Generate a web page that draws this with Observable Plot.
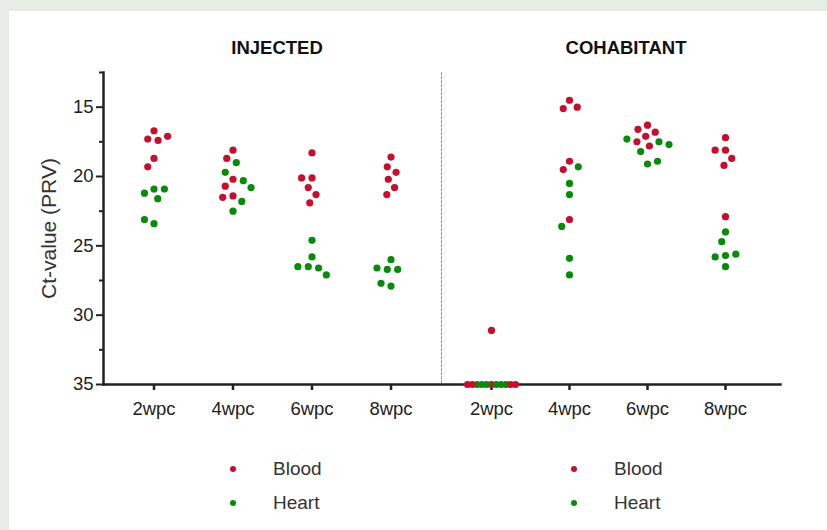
<!DOCTYPE html>
<html>
<head>
<meta charset="utf-8">
<script src="https://cdn.jsdelivr.net/npm/d3@7"></script>
<script src="https://cdn.jsdelivr.net/npm/@observablehq/plot@0.6"></script>
<style>
  html, body { margin: 0; padding: 0; background: #e8ece6; }
  #page { position: relative; width: 827px; height: 530px; overflow: hidden; font-family: "Liberation Sans", Arial, sans-serif; }
  #card { position: absolute; left: 9px; top: 11px; width: 818px; height: 519px; background: #fff; }
  .layer { position: absolute; top: 60px; }
  .layer svg { display: block; max-width: none; }
  .title { position: absolute; top: 37px; line-height: 22px; font-weight: bold; font-size: 18.5px; color: #111; transform: translateX(-50%); white-space: nowrap; }
  .legend { position: absolute; top: 456px; font-size: 19px; color: #333; }
  .legend .row { position: relative; height: 34px; line-height: 26px; }
  .legend .sw { position: absolute; left: 0; top: 10px; width: 6px; height: 6px; border-radius: 50%; }
  .legend .lab { position: absolute; left: 43px; top: 0; white-space: nowrap; }
</style>
</head>
<body>
<div id="page">
  <div id="card"></div>
  <div class="title" style="left:277px">INJECTED</div>
  <div class="title" style="left:626px">COHABITANT</div>
  <div class="layer" id="bgL" style="left:0px"></div>
  <div class="layer" id="fgL" style="left:0px"></div>
  <div class="layer" id="bgR" style="left:441px"></div>
  <div class="layer" id="fgR" style="left:441px"></div>
  <div class="legend" id="legL" style="left:230px"></div>
  <div class="legend" id="legR" style="left:571px"></div>
</div>
<script>
// ---- data (Ct-values) ----
const timepoints = ["2wpc", "4wpc", "6wpc", "8wpc"];
const groups = ["INJECTED", "COHABITANT"];
const tissues = ["Blood", "Heart"];
const tissueColors = ["#c4102e", "#0a8a0a"];
const yTicksMajor = [15, 20, 25, 30, 35];
const yTicksMinor = [12.5, 17.5, 22.5, 27.5, 32.5];
const yLabel = "Ct-value (PRV)";

// one inner list per timepoint (2, 4, 6, 8 wpc)
const injectedBlood = [
  [16.7, 17.3, 17.4, 17.1, 18.7, 19.3],
  [18.1, 18.7, 20.2, 20.7, 21.4, 21.5],
  [18.3, 20.1, 20.1, 20.8, 21.3, 21.9],
  [18.6, 19.3, 19.7, 20.2, 20.8, 21.3]
];
const injectedHeart = [
  [20.9, 21.2, 21.6, 20.9, 23.4, 23.1],
  [19.0, 19.7, 20.3, 20.8, 21.8, 22.5],
  [24.6, 25.8, 26.5, 26.6, 26.5, 27.1],
  [26.0, 26.7, 26.7, 26.6, 27.9, 27.7]
];
const cohabitantBlood = [
  [31.1, 35, 35, 35, 35, 35],
  [14.5, 15.1, 15.0, 18.9, 19.5, 23.1],
  [16.3, 16.6, 16.8, 17.1, 17.5, 17.8],
  [17.2, 18.1, 18.1, 18.7, 19.2, 22.9]
];
const cohabitantHeart = [
  [35, 35, 35, 35, 35, 35],
  [19.3, 20.5, 21.3, 23.6, 25.9, 27.1],
  [17.5, 17.3, 17.7, 18.2, 19.1, 18.9],
  [24.0, 24.7, 25.7, 25.8, 25.6, 26.5]
];
const undetected = 35;

// ---- tidy table built from the arrays ----
const table = [];
function addSeries(group, tissue, lists) {
  lists.forEach((vals, i) => vals.forEach(ct => table.push({group, time: timepoints[i], tissue, ct})));
}
addSeries("INJECTED", "Blood", injectedBlood);
addSeries("INJECTED", "Heart", injectedHeart);
addSeries("COHABITANT", "Blood", cohabitantBlood);
addSeries("COHABITANT", "Heart", cohabitantHeart);

// ---- layout ----
const H = 370, MT = 12, MB = 46;
const geom = {
  INJECTED:   {width: 441, ml: 103, mr: 0,  po: 0.239, align: 0.49, left: true},
  COHABITANT: {width: 386, ml: 0,   mr: 47, po: 0.2456, align: 0.45, left: false}
};
const font = "Liberation Sans, Arial, sans-serif";
const ink = "#222";

function background(group) {
  const g = geom[group];
  const marks = [
    Plot.axisX({tickSize: 6, tickPadding: 11, fontSize: 18.5, strokeWidth: 2.5, color: ink, label: null}),
    Plot.frame({anchor: "bottom", stroke: ink, strokeWidth: 2.5})
  ];
  if (g.left) {
    marks.push(
      Plot.frame({anchor: "left", stroke: ink, strokeWidth: 2.5}),
      Plot.axisY(yTicksMajor, {tickSize: 7, tickPadding: 3, fontSize: 18.5, strokeWidth: 2, color: ink, label: null}),
      Plot.axisY(yTicksMinor, {tickSize: 4, strokeWidth: 2, color: ink, tickFormat: () => "", label: null}),
      Plot.axisY([], {label: yLabel, labelAnchor: "center", labelArrow: "none", labelOffset: 62, fontSize: 21, color: "#333"})
    );
  } else {
    marks.push(Plot.frame({anchor: "left", stroke: "#9a9a9a", strokeWidth: 1, strokeDasharray: "2,2"}));
  }
  return Plot.plot({
    width: g.width, height: H, marginLeft: g.ml, marginRight: g.mr, marginTop: MT, marginBottom: MB,
    style: {background: "transparent", fontFamily: font},
    x: {type: "band", domain: timepoints, paddingInner: 0.2, paddingOuter: g.po, align: g.align, axis: null},
    y: {domain: [12.5, 35], reverse: true, axis: null},
    marks
  });
}

function dots(group) {
  const g = geom[group];
  const rows = table.filter(d => d.group === group);
  const detected = rows.filter(d => d.ct < undetected);
  const floorB = rows.filter(d => d.ct >= undetected && d.tissue === "Blood");
  const floorH = rows.filter(d => d.ct >= undetected && d.tissue === "Heart");
  const floor = floorB.length ? [floorB[0], ...floorH, ...floorB.slice(1)] : floorH;
  return Plot.plot({
    width: g.width, height: H, marginLeft: g.ml, marginRight: g.mr, marginTop: MT, marginBottom: MB,
    style: {background: "transparent", fontFamily: font},
    fx: {domain: timepoints, paddingInner: 0.2, paddingOuter: g.po, align: g.align, axis: null, label: null},
    y: {domain: [12.5, 35], reverse: true, axis: null},
    color: {domain: tissues, range: tissueColors},
    marks: [
      Plot.dot(detected, Plot.dodgeX({anchor: "middle", padding: 3.2, fx: "time", y: "ct", fill: "tissue", r: 3.6})),
      Plot.dot(floor, Plot.dodgeX({anchor: "middle", padding: -2.4, fx: "time", y: "ct", fill: "tissue", r: 3.6}))
    ]
  });
}

document.getElementById("bgL").append(background("INJECTED"));
document.getElementById("fgL").append(dots("INJECTED"));
document.getElementById("bgR").append(background("COHABITANT"));
document.getElementById("fgR").append(dots("COHABITANT"));

// legends
for (const id of ["legL", "legR"]) {
  const el = document.getElementById(id);
  tissues.forEach((t, i) => {
    const row = document.createElement("div");
    row.className = "row";
    const sw = document.createElement("span");
    sw.className = "sw";
    sw.style.background = tissueColors[i];
    const lab = document.createElement("span");
    lab.className = "lab";
    lab.textContent = t;
    row.append(sw, lab);
    el.append(row);
  });
}
</script>
</body>
</html>
